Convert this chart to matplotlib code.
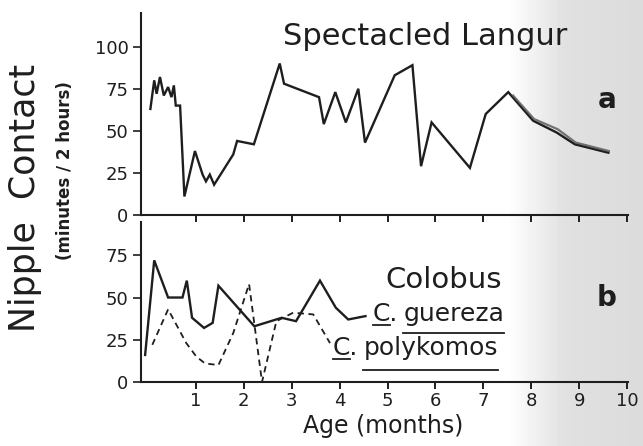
import numpy as np
import matplotlib
matplotlib.use("Agg")
import matplotlib.pyplot as plt
from matplotlib.lines import Line2D

W, H, DPI = 643, 446, 100

# ---- data ----
langur_age = [0.05, 0.13, 0.18, 0.25, 0.33, 0.42, 0.49, 0.54, 0.58, 0.67, 0.76,
              0.98, 1.14, 1.21, 1.29, 1.38, 1.78, 1.86, 2.21, 2.75, 2.84, 3.57,
              3.67, 3.91, 4.13, 4.39, 4.53, 5.15, 5.52, 5.70, 5.92, 6.72, 7.05,
              7.52, 8.04, 8.53, 8.91, 9.61]
langur_val = [63, 80, 72, 82, 71, 76, 70, 77, 65, 65, 11,
              38, 24, 20, 24, 18, 36, 44, 42, 90, 78, 70,
              54, 73, 55, 75, 43, 83, 89, 29, 55, 28, 60,
              73, 56, 49, 42, 37]
langur_tail_age = [7.62, 8.06, 8.55, 8.93, 9.62]
langur_tail_val = [71, 57, 51, 43, 38]

guereza_age = [-0.06, 0.13, 0.42, 0.72, 0.81, 0.92, 1.17, 1.35, 1.47, 2.22,
               2.79, 3.09, 3.59, 3.92, 4.18, 4.54]
guereza_val = [16, 72, 50, 50, 60, 38, 32, 35, 57, 33,
               38, 36, 60, 44, 37, 39]

polykomos_age = [0.09, 0.42, 0.80, 1.01, 1.19, 1.47, 1.78, 2.11, 2.38, 2.68,
                 3.03, 3.45, 3.80]
polykomos_val = [22, 43, 23, 15, 11, 10, 29, 58, 0, 36,
                 41, 40, 23]

top_yticks = [0, 25, 50, 75, 100]
bottom_yticks = [0, 25, 50, 75]
x_ticks = list(range(1, 11))
x_ticklabels = [str(t) for t in x_ticks]

INK = "#1e1e1e"

fig = plt.figure(figsize=(W / DPI, H / DPI), dpi=DPI)

# scanned-paper background shading
bg = fig.add_axes([0, 0, 1, 1], zorder=-10)
grad = np.interp(np.linspace(0, 1, W), [0, 0.79, 0.88, 1.0], [1.0, 1.0, 0.88, 0.86])
bg.imshow(np.tile(grad, (10, 1)), cmap="gray", vmin=0, vmax=1, aspect="auto",
          extent=[0, 1, 0, 1])
bg.axis("off")


def fx(x):
    return x / W


def fy(y):
    return 1 - y / H


ax1 = fig.add_axes([fx(141), fy(215), 487 / W, 202 / H])
ax2 = fig.add_axes([fx(141), fy(382), 487 / W, 160 / H])

for ax in (ax1, ax2):
    ax.set_facecolor("none")
    ax.set_xlim(-0.146, 10.02)
    for s in ("top", "right"):
        ax.spines[s].set_visible(False)
    for s in ("left", "bottom"):
        ax.spines[s].set_linewidth(1.5)
        ax.spines[s].set_color(INK)
    ax.set_xticks(x_ticks)
    ax.tick_params(axis="x", direction="out", length=5, width=1.4, color=INK)
    ax.tick_params(axis="y", direction="out", length=6, width=1.2, color=INK,
                   labelsize=13, pad=3, labelcolor=INK)

ax1.set_ylim(0, 120)
ax1.set_yticks(top_yticks)
ax1.set_xticklabels([])
ax2.set_ylim(0, 94.7)
ax2.set_yticks(bottom_yticks)
ax2.set_xticklabels(x_ticklabels, fontsize=13, color=INK)
ax2.tick_params(axis="x", pad=2)

ax1.plot(langur_age, langur_val, color=INK, lw=1.7, solid_joinstyle="miter")
ax1.plot(langur_tail_age, langur_tail_val, color="#555555", lw=1.6, alpha=0.8)

ax2.plot(guereza_age, guereza_val, color=INK, lw=1.7, solid_joinstyle="miter")
ax2.plot(polykomos_age, polykomos_val, color=INK, lw=1.3, linestyle=(0, (3.5, 2.5)))

# ---- texts ----
fig.text(fx(283), fy(45), "Spectacled Langur", fontsize=22, color=INK,
         ha="left", va="baseline")
fig.text(fx(607), fy(100), "a", fontsize=20, fontweight="bold", color=INK,
         ha="center", va="center")
fig.text(fx(607), fy(298), "b", fontsize=20, fontweight="bold", color=INK,
         ha="center", va="center")
fig.text(fx(385), fy(288), "Colobus", fontsize=21, color=INK, ha="left", va="baseline")

fig.text(fx(25), fy(198), "Nipple  Contact", fontsize=25, color=INK, rotation=90,
         ha="center", va="center")
fig.text(fx(65), fy(171), "(minutes / 2 hours)", fontsize=12, fontweight="bold",
         color=INK, rotation=90, ha="center", va="center")
fig.text(fx(383), fy(426), "Age (months)", fontsize=17, color=INK,
         ha="center", va="center")

fig.canvas.draw()
renderer = fig.canvas.get_renderer()


def species_label(x_px, base_px, genus, species, ul_word_px, size=18):
    t1 = fig.text(fx(x_px), fy(base_px), genus + ".", fontsize=size, color=INK,
                  ha="left", va="baseline")
    tc = fig.text(fx(x_px), fy(base_px), genus, fontsize=size, color=INK,
                  ha="left", va="baseline", alpha=0)
    fig.canvas.draw()
    b1 = t1.get_window_extent(renderer)
    bc = tc.get_window_extent(renderer)
    x2 = b1.x1 + 5
    t2 = fig.text(x2 / W, fy(base_px), species, fontsize=size, color=INK,
                  ha="left", va="baseline")
    fig.canvas.draw()
    b2 = t2.get_window_extent(renderer)
    fig.add_artist(Line2D([bc.x0 / W, bc.x1 / W], [fy(base_px + 4)] * 2,
                          color=INK, lw=1.3, transform=fig.transFigure))
    fig.add_artist(Line2D([b2.x0 / W, b2.x1 / W], [fy(ul_word_px)] * 2,
                          color=INK, lw=1.3, transform=fig.transFigure))


species_label(373, 321, "C", "guereza", 333)
species_label(333, 355, "C", "polykomos", 370)

fig.savefig("out.png", dpi=DPI)
